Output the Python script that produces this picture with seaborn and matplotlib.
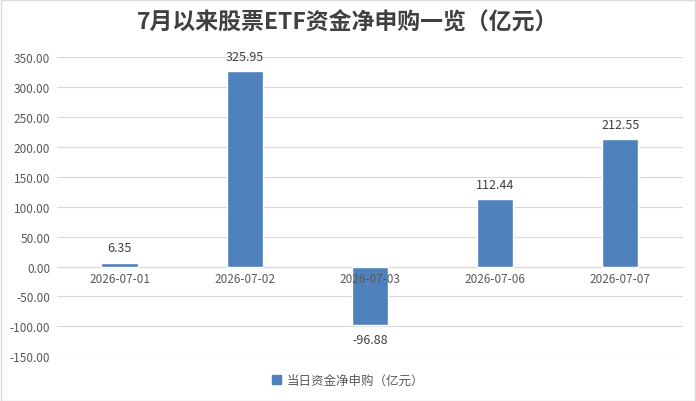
import seaborn as sns
import numpy as np
import pandas as pd
import matplotlib.pyplot as plt
from matplotlib.patches import Rectangle

dates = ["2026-07-01", "2026-07-02", "2026-07-03", "2026-07-06", "2026-07-07"]
values = [6.35, 325.95, -96.88, 112.44, 212.55]
series_name = "当日资金净申购（亿元）"
title = "7月以来股票ETF资金净申购一览（亿元）"
yticks = [-150, -100, -50, 0, 50, 100, 150, 200, 250, 300, 350]

sns.set_style("white")
plt.rcParams['font.family'] = ['Noto Sans CJK SC', 'DejaVu Sans']

df = pd.DataFrame({"date": dates, "value": values})

fig = plt.figure(figsize=(6.96, 4.02), dpi=100)
ax = fig.add_axes([0.082, 0.111, 0.899, 0.745])

sns.barplot(data=df, x="date", y="value", color="#4F81BD", saturation=1,
            width=0.29, ax=ax, zorder=2)

ax.set_ylim(-150, 350)
ax.set_xlim(-0.5, len(dates) - 0.5)
ax.set_yticks(yticks)
ax.set_yticklabels([f"{v:.2f}" for v in yticks], fontsize=8.5, color="#595959")
ax.tick_params(axis="x", length=0, pad=4, labelsize=8.5, labelcolor="#595959")
ax.tick_params(axis="y", length=0, pad=5)
ax.set_xlabel("")
ax.set_ylabel("")
ax.yaxis.grid(True, color="#D9D9D9", linewidth=0.8)
ax.set_axisbelow(True)
# category labels sit on top of the bars
ax.xaxis.set_zorder(3)

for s in ["top", "right", "left"]:
    ax.spines[s].set_visible(False)
ax.spines["bottom"].set_position(("data", 0))
ax.spines["bottom"].set_color("#D9D9D9")
ax.spines["bottom"].set_linewidth(0.8)
ax.spines["bottom"].set_zorder(1)

# data labels
for i, v in enumerate(values):
    off = 6 if v >= 0 else -6
    ax.annotate(f"{v:.2f}", (i, v), xytext=(0, off), textcoords="offset points",
                ha="center", va="bottom" if v >= 0 else "top",
                fontsize=9, color="#404040")

fig.text(0.5, 0.943, title, ha="center", va="center", fontsize=16.5,
         fontweight="bold", color="#404040")

handle = Rectangle((0, 0), 1, 1, color="#4F81BD")
fig.legend([handle], [series_name], loc="center", bbox_to_anchor=(0.5, 0.052),
           frameon=False, fontsize=9, handlelength=0.7, handleheight=0.7,
           handletextpad=0.4, labelcolor="#595959")

fig.patches.append(Rectangle((0.001, 0.001), 0.997, 0.997, transform=fig.transFigure,
                             fill=False, edgecolor="#D9D9D9", linewidth=1))

fig.savefig("out.png", dpi=100)
